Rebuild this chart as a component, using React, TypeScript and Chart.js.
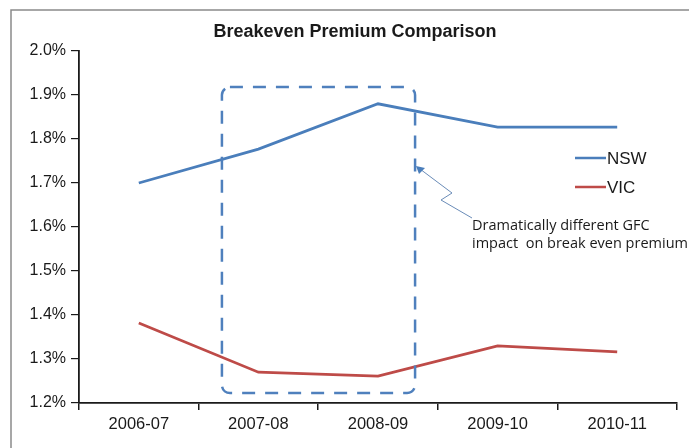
import React, { useEffect, useRef } from "react";
import { Chart, registerables } from "chart.js";

Chart.register(...registerables);

const categories = ["2006-07", "2007-08", "2008-09", "2009-10", "2010-11"];
const nswValues = [1.70, 1.777, 1.88, 1.827, 1.827];
const vicValues = [1.382, 1.27, 1.261, 1.33, 1.316];
const yTicks = [1.2, 1.3, 1.4, 1.5, 1.6, 1.7, 1.8, 1.9, 2.0];
const boxRange = { x0: 0.695, x1: 2.31, y0: 1.2227, y1: 1.918 };
const titleText = "Breakeven Premium Comparison";
const noteLines = ["Dramatically different GFC", "impact  on break even premium"];

const NSW_COLOR = "#4a7ebb";
const VIC_COLOR = "#be4b48";
const FONT = "'Liberation Sans', Arial, sans-serif";

const overlay = {
  id: "overlay",
  beforeDraw(chart: any) {
    const ctx = chart.ctx;
    ctx.save();
    ctx.fillStyle = "#ffffff";
    ctx.fillRect(0, 0, chart.width, chart.height);
    ctx.strokeStyle = "#8a8a8a";
    ctx.lineWidth = 1.5;
    ctx.beginPath();
    ctx.moveTo(11, chart.height + 2);
    ctx.lineTo(11, 10);
    ctx.lineTo(chart.width + 2, 10);
    ctx.stroke();
    ctx.restore();
  },
  afterDraw(chart: any) {
    const ctx = chart.ctx;
    const xs = chart.scales.x;
    const ys = chart.scales.y;
    ctx.save();
    // title
    ctx.fillStyle = "#1a1a1a";
    ctx.font = "bold 18px " + FONT;
    ctx.textAlign = "center";
    ctx.textBaseline = "middle";
    ctx.fillText(titleText, 355, 32);

    // dashed box
    const l = xs.getPixelForValue(boxRange.x0);
    const r = xs.getPixelForValue(boxRange.x1);
    const t = ys.getPixelForValue(boxRange.y1);
    const b = ys.getPixelForValue(boxRange.y0);
    ctx.strokeStyle = "#4f80bd";
    ctx.lineWidth = 2.5;
    ctx.setLineDash([13, 10]);
    ctx.beginPath();
    (ctx as any).roundRect(l, t, r - l, b - t, 8);
    ctx.stroke();
    ctx.setLineDash([]);

    // legend
    const legendItems = [
      { label: "NSW", color: NSW_COLOR, y: 158 },
      { label: "VIC", color: VIC_COLOR, y: 187 },
    ];
    ctx.font = "17px " + FONT;
    ctx.textAlign = "left";
    legendItems.forEach((it) => {
      ctx.strokeStyle = it.color;
      ctx.lineWidth = 2.5;
      ctx.beginPath();
      ctx.moveTo(575, it.y);
      ctx.lineTo(606, it.y);
      ctx.stroke();
      ctx.fillStyle = "#1a1a1a";
      ctx.fillText(it.label, 607, it.y + 1);
    });

    // note text
    ctx.font = "14.5px 'Open Sans', 'Liberation Sans', sans-serif";
    ctx.fillStyle = "#1a1a1a";
    ctx.fillText(noteLines[0], 472, 226);
    ctx.fillText(noteLines[1], 472, 244);

    // arrow
    ctx.strokeStyle = "#6a8cb8";
    ctx.lineWidth = 1;
    ctx.beginPath();
    ctx.moveTo(472, 218);
    ctx.lineTo(441, 200);
    ctx.lineTo(452, 193);
    ctx.lineTo(420, 169);
    ctx.stroke();
    ctx.fillStyle = "#4a7ebb";
    ctx.beginPath();
    ctx.moveTo(416, 166);
    ctx.lineTo(425, 168);
    ctx.lineTo(419, 174);
    ctx.closePath();
    ctx.fill();
    ctx.restore();
  },
};

export default function App() {
  const ref = useRef<HTMLCanvasElement>(null);
  useEffect(() => {
    if (!ref.current) return;
    const chart = new Chart(ref.current, {
      type: "line",
      data: {
        labels: categories,
        datasets: [
          { label: "NSW", data: nswValues, borderColor: NSW_COLOR, borderWidth: 2.8, pointRadius: 0, tension: 0 },
          { label: "VIC", data: vicValues, borderColor: VIC_COLOR, borderWidth: 2.8, pointRadius: 0, tension: 0 },
        ],
      },
      options: {
        animation: false,
        responsive: false,
        devicePixelRatio: 1,
        layout: { padding: { top: 51, right: 12, left: 0, bottom: 0 } },
        plugins: { legend: { display: false }, title: { display: false }, tooltip: { enabled: false } },
        scales: {
          x: {
            type: "category",
            offset: true,
            grid: { offset: true, drawOnChartArea: false, drawTicks: true, tickLength: 7, color: "#1a1a1a", lineWidth: 1.5 },
            border: { display: true, color: "#1a1a1a", width: 1.8 },
            ticks: { color: "#1a1a1a", font: { family: FONT, size: 16.5 }, padding: 5, maxRotation: 0 },
            afterFit: (s: any) => { s.height = 45; },
          },
          y: {
            min: 1.2,
            max: 2.0,
            afterBuildTicks: (s: any) => { s.ticks = yTicks.map((v) => ({ value: v })); },
            grid: { drawOnChartArea: false, drawTicks: true, tickLength: 8, color: "#1a1a1a", lineWidth: 1.2 },
            border: { display: true, color: "#1a1a1a", width: 1.8 },
            ticks: {
              color: "#1a1a1a",
              font: { family: FONT, size: 16 },
              padding: 5,
              callback: (v: any) => Number(v).toFixed(1) + "%",
            },
            afterFit: (s: any) => { s.width = 79; },
          },
        },
      },
      plugins: [overlay],
    });
    return () => chart.destroy();
  }, []);
  return (
    <div style={{ position: "fixed", left: 0, top: 0, width: 689, height: 448 }}>
      <canvas ref={ref} width={689} height={448} style={{ display: "block", width: 689, height: 448 }} />
    </div>
  );
}
